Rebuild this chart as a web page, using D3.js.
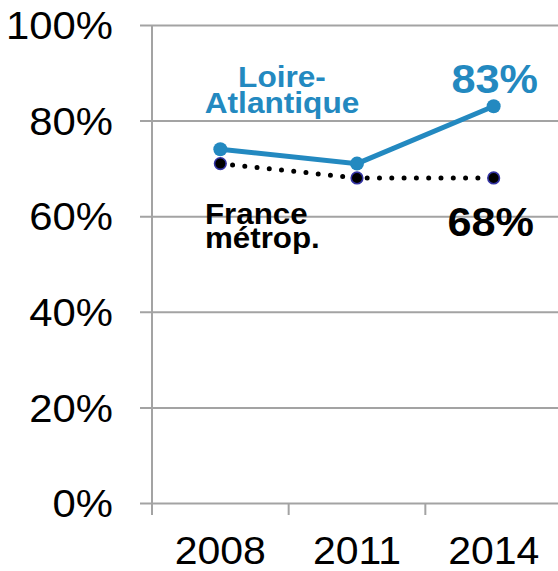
<!DOCTYPE html>
<html>
<head>
<meta charset="utf-8">
<script src="https://cdn.jsdelivr.net/npm/d3@7"></script>
<style>
  body { margin: 0; background: #fff; }
  svg { display: block; font-family: "Liberation Sans", Arial, sans-serif; }
</style>
</head>
<body>
<svg id="chart" width="558" height="571"></svg>
<script>
var years = ["2008", "2011", "2014"];
var loireValues = [74, 71, 83];
var franceValues = [71, 68, 68];
var yTicks = [0, 20, 40, 60, 80, 100];

var blue = "#2389c0";
var gridGray = "#a3a3a3";

var svg = d3.select("#chart");
var plotLeft = 152, plotRight = 562, plotTop = 25, plotBottom = 503;

var x = d3.scaleBand().domain(years).range([plotLeft, plotRight]);
var y = d3.scaleLinear().domain([0, 100]).range([plotBottom, plotTop]);

// widen text a little (the original font is a bit wider than Liberation Sans)
function stretch(sel, sx) {
    sel.each(function () {
        var t = d3.select(this);
        var tx = +t.attr("x") || 0, ty = +t.attr("y") || 0;
        t.attr("x", 0).attr("y", 0)
            .attr("transform", "translate(" + tx + "," + ty + ") scale(" + sx + ",1)");
    });
}

// y axis + gridlines (axis drawn from the right side so ticks span the plot)
var yAxis = d3.axisLeft(y)
    .tickValues(yTicks)
    .tickSize(plotRight - 140)
    .tickPadding(27)
    .tickFormat(function (d) { return d + "%"; });
var yg = svg.append("g")
    .attr("transform", "translate(" + plotRight + ",0)")
    .call(yAxis);
yg.select(".domain").remove();
yg.selectAll(".tick line").attr("stroke", gridGray).attr("stroke-width", 2);
yg.selectAll(".tick text")
    .attr("fill", "#000")
    .style("font-size", "38px")
    .attr("dy", "0.36em")
    .call(stretch, 1.1);

// vertical axis line
svg.append("line")
    .attr("x1", plotLeft).attr("x2", plotLeft)
    .attr("y1", plotTop).attr("y2", plotBottom + 12)
    .attr("stroke", gridGray).attr("stroke-width", 2);

// x axis ticks at band boundaries
svg.selectAll(".xtick")
    .data(years)
    .enter().append("line")
    .attr("class", "xtick")
    .attr("x1", function (d) { return x(d); })
    .attr("x2", function (d) { return x(d); })
    .attr("y1", plotBottom)
    .attr("y2", plotBottom + 12)
    .attr("stroke", gridGray).attr("stroke-width", 2);

// x labels
var xAxis = d3.axisBottom(x).tickSize(0).tickPadding(0);
var xg = svg.append("g")
    .attr("transform", "translate(0," + plotBottom + ")")
    .call(xAxis);
xg.select(".domain").remove();
xg.selectAll(".tick text")
    .attr("fill", "#000")
    .attr("dy", null)
    .attr("y", 61)
    .style("font-size", "39px")
    .call(stretch, 1.05);

function cx(d, i) { return x(years[i]) + x.bandwidth() / 2; }

var line = d3.line()
    .x(function (d, i) { return cx(d, i); })
    .y(function (d) { return y(d); });

// France métrop. (dotted)
svg.append("path")
    .datum(franceValues)
    .attr("d", line)
    .attr("fill", "none")
    .attr("stroke", "#000")
    .attr("stroke-width", 5)
    .attr("stroke-linecap", "round")
    .attr("stroke-dasharray", "0,12.3");

// Loire-Atlantique
svg.append("path")
    .datum(loireValues)
    .attr("d", line)
    .attr("fill", "none")
    .attr("stroke", blue)
    .attr("stroke-width", 5);

svg.selectAll(".loireDot")
    .data(loireValues)
    .enter().append("circle")
    .attr("class", "loireDot")
    .attr("cx", cx)
    .attr("cy", function (d) { return y(d); })
    .attr("r", 7)
    .attr("fill", blue);

svg.selectAll(".franceDot")
    .data(franceValues)
    .enter().append("circle")
    .attr("class", "franceDot")
    .attr("cx", cx)
    .attr("cy", function (d) { return y(d); })
    .attr("r", 5.8)
    .attr("fill", "#000")
    .attr("stroke", "#3333a3")
    .attr("stroke-width", 1.6);

// labels
function label(txt, px, py, size, color, anchor, sx) {
    svg.append("text")
        .attr("x", px)
        .attr("y", py)
        .attr("fill", color)
        .attr("font-weight", "bold")
        .attr("text-anchor", anchor)
        .style("font-size", size + "px")
        .text(txt)
        .call(stretch, sx);
}

label("Loire-", 282, 87, 29, blue, "middle", 1.09);
label("Atlantique", 282, 113, 29, blue, "middle", 1.09);
label(loireValues[2] + "%", cx(null, 2) + 1, 93, 40, blue, "middle", 1.08);
label("France", 205, 224, 29, "#000", "start", 1.08);
label("métrop.", 205, 248, 29, "#000", "start", 1.08);
label(franceValues[2] + "%", cx(null, 2) - 3, 236, 40, "#000", "middle", 1.08);
</script>
</body>
</html>
